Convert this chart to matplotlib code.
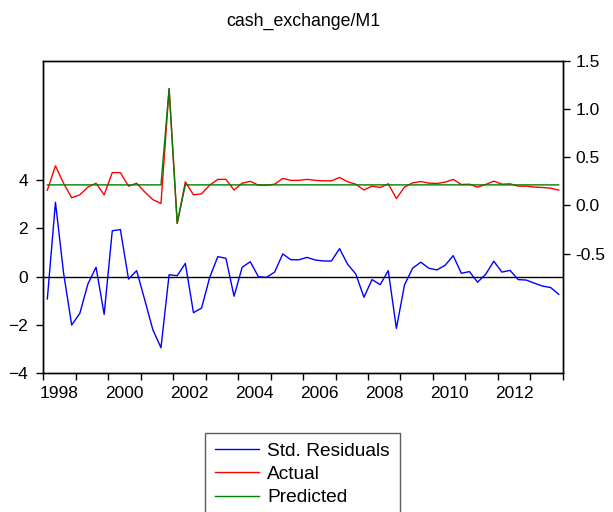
import numpy as np
import pandas as pd
import matplotlib
matplotlib.use("Agg")
import matplotlib.pyplot as plt
from matplotlib.ticker import FixedLocator, FixedFormatter

plt.rcParams['font.family'] = ['Liberation Sans', 'DejaVu Sans']

# quarterly sample 1998Q1 - 2013Q4
quarters = pd.period_range('1998Q1', '2013Q4', freq='Q')

std_resid = [
    -0.92, 3.08, 0.15, -2.00, -1.52, -0.30, 0.39, -1.56,
    1.90, 1.95, -0.10, 0.25, -0.96, -2.20, -2.94, 0.08,
    0.04, 0.55, -1.49, -1.30, -0.03, 0.83, 0.76, -0.81,
    0.39, 0.62, 0.00, -0.03, 0.19, 0.94, 0.70, 0.70,
    0.80, 0.69, 0.65, 0.65, 1.16, 0.51, 0.11, -0.85,
    -0.12, -0.33, 0.25, -2.14, -0.34, 0.35, 0.60, 0.35,
    0.28, 0.47, 0.87, 0.14, 0.21, -0.23, 0.10, 0.64,
    0.19, 0.26, -0.12, -0.14, -0.27, -0.39, -0.45, -0.73,
]

actual = [
    0.158, 0.41, 0.23, 0.08, 0.11, 0.19, 0.23, 0.11,
    0.34, 0.34, 0.20, 0.23, 0.14, 0.06, 0.02, 1.21,
    -0.186, 0.245, 0.11, 0.12, 0.21, 0.27, 0.27, 0.16,
    0.23, 0.25, 0.21, 0.21, 0.22, 0.28, 0.26, 0.26,
    0.27, 0.26, 0.255, 0.255, 0.29, 0.245, 0.22, 0.16,
    0.20, 0.186, 0.224, 0.072, 0.19, 0.234, 0.248, 0.231,
    0.228, 0.241, 0.27, 0.217, 0.22, 0.19, 0.217, 0.252,
    0.22, 0.224, 0.20, 0.20, 0.19, 0.186, 0.179, 0.158,
]

predicted = [
    0.213, 0.213, 0.213, 0.213, 0.213, 0.213, 0.213, 0.213,
    0.213, 0.213, 0.213, 0.213, 0.213, 0.213, 0.213, 1.21,
    -0.186, 0.213, 0.213, 0.213, 0.213, 0.213, 0.213, 0.213,
    0.213, 0.213, 0.213, 0.213, 0.213, 0.213, 0.213, 0.213,
    0.213, 0.213, 0.213, 0.213, 0.213, 0.213, 0.213, 0.213,
    0.213, 0.213, 0.213, 0.213, 0.213, 0.213, 0.213, 0.213,
    0.213, 0.213, 0.213, 0.213, 0.213, 0.213, 0.213, 0.213,
    0.213, 0.213, 0.213, 0.213, 0.213, 0.213, 0.213, 0.213,
]

left_ticks = [-4, -2, 0, 2, 4]
right_ticks = [-0.5, 0.0, 0.5, 1.0, 1.5]
year_labels = ['1998', '2000', '2002', '2004', '2006', '2008', '2010', '2012']

# observations plotted at the middle of each quarter
x = quarters.year + (quarters.quarter - 0.5) / 4

fig = plt.figure(figsize=(6.13, 5.12), dpi=100)
ax = fig.add_axes([0.0706, 0.2709, 0.8475, 0.6105])
ax2 = ax.twinx()

ax.axhline(0, color='black', lw=1, zorder=1)
l1, = ax.plot(x, std_resid, color='#0000ff', lw=1, label='Std. Residuals')
l2, = ax2.plot(x, actual, color='#ff0000', lw=1, label='Actual')
l3, = ax2.plot(x, predicted, color='#008000', lw=1, label='Predicted')

ax.set_xlim(1998, 2014)
ax.set_ylim(-4, 8.94)
ax2.set_ylim(-1.74, 1.5)

ax.set_yticks(left_ticks)
ax2.set_yticks(right_ticks)
ax2.set_yticklabels([f'{t:.1f}' for t in right_ticks])

# year ticks, labels centred under even years
ax.xaxis.set_major_locator(FixedLocator(np.arange(1998, 2015)))
ax.xaxis.set_major_formatter(FixedFormatter([''] * 17))
label_pos = [int(y) + 0.5 for y in year_labels]
ax.xaxis.set_minor_locator(FixedLocator(label_pos))
ax.xaxis.set_minor_formatter(FixedFormatter(year_labels))

ax.tick_params(axis='x', which='major', direction='out', length=5, width=1)
ax.tick_params(axis='x', which='minor', length=0, pad=9, labelsize=12.5)
ax.tick_params(axis='y', direction='out', length=5, width=1, pad=6, labelsize=12.5)
ax2.tick_params(axis='y', direction='out', length=5, width=1, pad=4, labelsize=12.5)

for a in (ax, ax2):
    for s in a.spines.values():
        s.set_linewidth(1)
        s.set_color('black')

ax.set_title('cash_exchange/M1', fontsize=12.8, pad=25)

leg = fig.legend(handles=[l1, l2, l3], loc='upper left',
                 bbox_to_anchor=(205 / 613, 1 - 433 / 512),
                 fontsize=13.8, frameon=True, fancybox=False,
                 edgecolor='#333333', handlelength=2.3, handletextpad=0.45,
                 labelspacing=0.3, borderpad=0.5, borderaxespad=0)
leg.get_frame().set_linewidth(1)

fig.savefig('out.png', dpi=100)
